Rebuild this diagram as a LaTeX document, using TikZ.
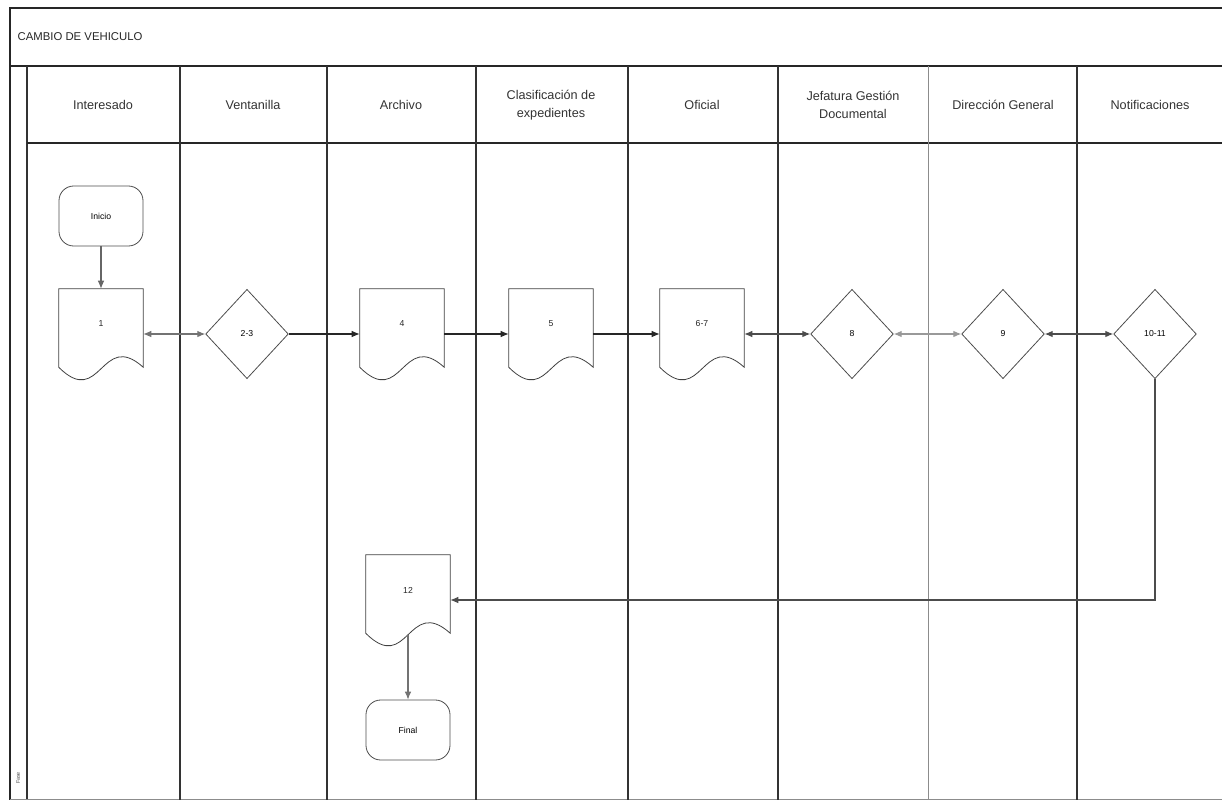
\documentclass[tikz,border=0pt]{standalone}
\usepackage{fontspec}
\setmainfont{Liberation Sans}
\usetikzlibrary{arrows.meta,shapes.geometric,calc}
\newcommand{\docnode}[4]{%
  \node[docbox] (#1) at (#2,#3) {};
  \node[lbl] (#1-t) at ($(#1)+(0,-10)$) {#4};
  \draw[shapeline] ($(#1.south west)+(0,-12)$) -- (#1.north west) -- (#1.north east) -- ($(#1.south east)+(0,-12)$)
    .. controls ($(#1.south)+(0,-50)$) and ($(#1.south)+(0,30)$) .. ($(#1.south west)+(0,-12)$);
}
\begin{document}
\begin{tikzpicture}[x=0.75pt,y=-0.75pt,
  frame/.style={line width=0.9pt, draw=black!85},
  lane/.style={line width=0.8pt, draw=black!80},
  lanelight/.style={line width=0.7pt, draw=black!45},
  hdr/.style={font=\fontsize{9.5}{13}\selectfont, align=center, text=black!80},
  lbl/.style={font=\fontsize{6.5}{8}\selectfont, text=black!85, inner sep=1pt},
  term/.style={draw=black!70, line width=0.6pt, rounded corners=11pt, minimum width=63pt, minimum height=45pt, font=\fontsize{6.5}{8}\selectfont, inner sep=0pt},
  docbox/.style={minimum width=63pt, minimum height=67.5pt, inner sep=0pt},
  shapeline/.style={draw=black!75, line width=0.6pt},
  dec/.style={diamond, draw=black!70, line width=0.6pt, minimum width=62pt, minimum height=67pt, inner sep=0pt, font=\fontsize{6.5}{8}\selectfont},
  flow/.style={draw=black!85, line width=0.8pt, -{Latex[length=6pt,width=5pt]}},
  flowtwo/.style={draw=black!70, line width=0.8pt, {Latex[length=6pt,width=5pt]}-{Latex[length=6pt,width=5pt]}},
]
\useasboundingbox (0,0) rectangle (1222,800);
% frame and lanes
\draw[frame] (10,800) -- (10,8) -- (1222,8);
\draw[frame] (10,66) -- (1222,66);
\draw[lane] (27,66) -- (27,800);
\draw[frame] (27,143) -- (1222,143);
\draw[lanelight] (10,799) -- (1222,799);
\foreach \xx in {180,327,476,628,778,1077} {\draw[lane] (\xx,66) -- (\xx,800);}
\draw[lanelight] (928,66) -- (928,800);
% title and headers
\node[anchor=west, font=\fontsize{8.5}{10}\selectfont, text=black!85] (title) at (13,37) {CAMBIO DE VEHICULO};
\node[rotate=90, font=\fontsize{4}{5}\selectfont, text=black!70] (fase) at (18,778) {Fase};
\node[hdr] (h1) at (103,105) {Interesado};
\node[hdr] (h2) at (253,105) {Ventanilla};
\node[hdr] (h3) at (401,105) {Archivo};
\node[hdr] (h4) at (551,105) {Clasificación de\\expedientes};
\node[hdr] (h5) at (702,105) {Oficial};
\node[hdr] (h6) at (853,105) {Jefatura Gestión\\Documental};
\node[hdr] (h7) at (1003,105) {Dirección General};
\node[hdr] (h8) at (1150,105) {Notificaciones};
% nodes
\node[term] (inicio) at (101,216) {Inicio};
\docnode{d1}{101}{334}{1}
\node[dec] (d23) at (247,334) {2-3};
\docnode{d4}{402}{334}{4}
\docnode{d5}{551}{334}{5}
\docnode{d67}{702}{334}{6-7}
\node[dec] (d8) at (852,334) {8};
\node[dec] (d9) at (1003,334) {9};
\node[dec] (d1011) at (1155,334) {10-11};
\docnode{d12}{408}{600}{12}
\node[term] (final) at (408,730) {Final};
% connectors
\draw[flow, draw=black!60] (inicio.south) -- (d1.north);
\draw[flowtwo, draw=black!55] (d1.east) -- (d23.west);
\draw[flow] (d23.east) -- (d4.west);
\draw[flow] (d4.east) -- (d5.west);
\draw[flow] (d5.east) -- (d67.west);
\draw[flowtwo] (d67.east) -- (d8.west);
\draw[flowtwo, draw=black!40] (d8.east) -- (d9.west);
\draw[flowtwo] (d9.east) -- (d1011.west);
\draw[flow, draw=black!70] (d1011.south) |- (d12.east);
\draw[flow, draw=black!55] ($(d12.south)+(0,-10)$) -- (final.north);
\end{tikzpicture}
\end{document}
